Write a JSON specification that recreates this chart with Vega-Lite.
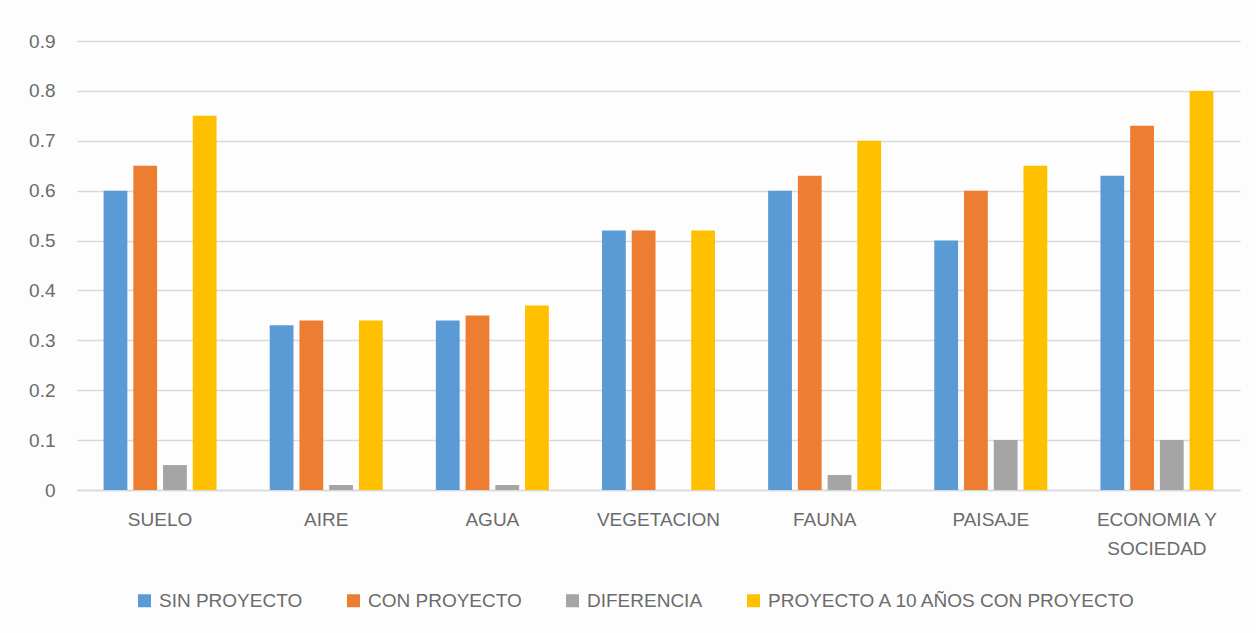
{
  "$schema": "https://vega.github.io/schema/vega-lite/v6.json",
  "autosize": {"type": "none"},
  "width": 1163,
  "height": 449,
  "padding": {"left": 77, "top": 41, "right": 16, "bottom": 143},
  "background": "#fdfdfd",
  "data": {
    "values": [
      {"factor": "SUELO", "serie": "SIN PROYECTO", "valor": 0.6},
      {"factor": "SUELO", "serie": "CON PROYECTO", "valor": 0.65},
      {"factor": "SUELO", "serie": "DIFERENCIA", "valor": 0.05},
      {"factor": "SUELO", "serie": "PROYECTO A 10 AÑOS CON PROYECTO", "valor": 0.75},
      {"factor": "AIRE", "serie": "SIN PROYECTO", "valor": 0.33},
      {"factor": "AIRE", "serie": "CON PROYECTO", "valor": 0.34},
      {"factor": "AIRE", "serie": "DIFERENCIA", "valor": 0.01},
      {"factor": "AIRE", "serie": "PROYECTO A 10 AÑOS CON PROYECTO", "valor": 0.34},
      {"factor": "AGUA", "serie": "SIN PROYECTO", "valor": 0.34},
      {"factor": "AGUA", "serie": "CON PROYECTO", "valor": 0.35},
      {"factor": "AGUA", "serie": "DIFERENCIA", "valor": 0.01},
      {"factor": "AGUA", "serie": "PROYECTO A 10 AÑOS CON PROYECTO", "valor": 0.37},
      {"factor": "VEGETACION", "serie": "SIN PROYECTO", "valor": 0.52},
      {"factor": "VEGETACION", "serie": "CON PROYECTO", "valor": 0.52},
      {"factor": "VEGETACION", "serie": "DIFERENCIA", "valor": 0},
      {"factor": "VEGETACION", "serie": "PROYECTO A 10 AÑOS CON PROYECTO", "valor": 0.52},
      {"factor": "FAUNA", "serie": "SIN PROYECTO", "valor": 0.6},
      {"factor": "FAUNA", "serie": "CON PROYECTO", "valor": 0.63},
      {"factor": "FAUNA", "serie": "DIFERENCIA", "valor": 0.03},
      {"factor": "FAUNA", "serie": "PROYECTO A 10 AÑOS CON PROYECTO", "valor": 0.7},
      {"factor": "PAISAJE", "serie": "SIN PROYECTO", "valor": 0.5},
      {"factor": "PAISAJE", "serie": "CON PROYECTO", "valor": 0.6},
      {"factor": "PAISAJE", "serie": "DIFERENCIA", "valor": 0.1},
      {"factor": "PAISAJE", "serie": "PROYECTO A 10 AÑOS CON PROYECTO", "valor": 0.65},
      {"factor": "ECONOMIA Y SOCIEDAD", "serie": "SIN PROYECTO", "valor": 0.63},
      {"factor": "ECONOMIA Y SOCIEDAD", "serie": "CON PROYECTO", "valor": 0.73},
      {"factor": "ECONOMIA Y SOCIEDAD", "serie": "DIFERENCIA", "valor": 0.1},
      {"factor": "ECONOMIA Y SOCIEDAD", "serie": "PROYECTO A 10 AÑOS CON PROYECTO", "valor": 0.8}
    ]
  },
  "mark": {"type": "bar"},
  "encoding": {
    "x": {
      "field": "factor",
      "type": "nominal",
      "sort": null,
      "scale": {"paddingInner": 0.32, "paddingOuter": 0.16},
      "axis": {
        "title": null,
        "labelAngle": 0,
        "ticks": false,
        "tickSize": 0,
        "labelPadding": 20,
        "domainColor": "#d9d9d9",
        "domainWidth": 1.5,
        "labelLineHeight": 29,
        "labelExpr": "datum.label == 'ECONOMIA Y SOCIEDAD' ? ['ECONOMIA Y', 'SOCIEDAD'] : datum.label"
      }
    },
    "xOffset": {
      "field": "serie",
      "type": "nominal",
      "sort": ["SIN PROYECTO", "CON PROYECTO", "DIFERENCIA", "PROYECTO A 10 AÑOS CON PROYECTO"],
      "scale": {"paddingInner": 0.2, "paddingOuter": 0}
    },
    "y": {
      "field": "valor",
      "type": "quantitative",
      "scale": {"domain": [0, 0.9], "nice": false},
      "axis": {
        "title": null,
        "values": [0, 0.1, 0.2, 0.3, 0.4, 0.5, 0.6, 0.7, 0.8, 0.9],
        "format": ".1~f",
        "domain": false,
        "ticks": false,
        "tickSize": 0,
        "labelPadding": 22,
        "gridColor": "#d9d9d9",
        "gridWidth": 1.5
      }
    },
    "color": {
      "field": "serie",
      "type": "nominal",
      "scale": {
        "domain": ["SIN PROYECTO", "CON PROYECTO", "DIFERENCIA", "PROYECTO A 10 AÑOS CON PROYECTO"],
        "range": ["#5B9BD5", "#ED7D31", "#A5A5A5", "#FFC000"]
      },
      "legend": {
        "title": null,
        "orient": "none",
        "direction": "horizontal",
        "legendX": 58,
        "legendY": 550,
        "symbolType": "square",
        "symbolSize": 169,
        "symbolStrokeWidth": 0,
        "labelOffset": 5,
        "columnPadding": 41
      }
    }
  },
  "config": {
    "font": "Liberation Sans",
    "view": {"stroke": null},
    "axis": {
      "labelFont": "Liberation Sans",
      "labelFontSize": 19,
      "labelColor": "#6b6b6b"
    },
    "legend": {
      "labelFont": "Liberation Sans",
      "labelFontSize": 19,
      "labelColor": "#6b6b6b",
      "labelLimit": 0
    }
  }
}
